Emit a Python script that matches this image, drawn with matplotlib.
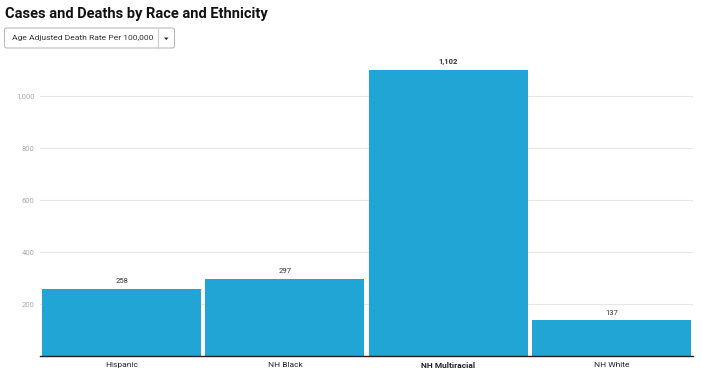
import matplotlib
matplotlib.use("Agg")
import matplotlib.pyplot as plt
from matplotlib.patches import FancyBboxPatch, Polygon
from matplotlib.lines import Line2D

plt.rcParams['font.family'] = ['Roboto', 'DejaVu Sans']

# data
groups = ["Hispanic", "NH Black", "NH Multiracial", "NH White"]
rates = [258, 297, 1102, 137]
highlight = "NH Multiracial"
yticks = [200, 400, 600, 800, 1000]

bar_color = "#21a5d4"

fig = plt.figure(figsize=(7.02, 3.74), dpi=100)
W, H = 702, 374
ax = fig.add_axes([40 / W, 1 - 356 / H, 653 / W, (356 - 55) / H])

x = range(len(groups))
bars = ax.bar(x, rates, width=0.975, color=bar_color, zorder=2)

ax.set_xlim(-0.5, len(groups) - 0.5)
ax.set_ylim(0, 1158)
ax.set_yticks(yticks)
ax.set_yticklabels([f"{v:,}" for v in yticks], color="#aaaaaa", fontsize=5.5)
ax.yaxis.grid(True, color="#e6e6e6", linewidth=0.8, zorder=0)
ax.tick_params(axis="y", length=0, pad=4)
ax.tick_params(axis="x", length=0, pad=4.5)
ax.set_xticks(list(x))
ax.set_xticklabels(groups, fontsize=6, color="#222222")
for lab in ax.get_xticklabels():
    if lab.get_text() == highlight:
        lab.set_fontweight("bold")

for s in ["top", "right", "left"]:
    ax.spines[s].set_visible(False)
ax.spines["bottom"].set_color("#222222")
ax.spines["bottom"].set_linewidth(1.0)

for i, (g, v) in enumerate(zip(groups, rates)):
    ax.annotate(f"{v:,}", (i, v), xytext=(0, 3.5), textcoords="offset points",
                ha="center", va="bottom", fontsize=5.5, color="#333333",
                fontweight="bold" if g == highlight else "normal")

# title
fig.text(5 / W, 1 - 14 / H, "Cases and Deaths by Race and Ethnicity",
         fontsize=10.5, fontweight="bold", color="#111111", va="center", ha="left")

# dropdown box
box = FancyBboxPatch((4.5 / W, 1 - 48 / H), 170 / W, 20 / H,
                     boxstyle="round,pad=0,rounding_size=0.004",
                     transform=fig.transFigure, facecolor="white",
                     edgecolor="#bbbbbb", linewidth=0.8)
fig.patches.append(box)
fig.add_artist(Line2D([158 / W, 158 / W], [1 - 47.5 / H, 1 - 28.5 / H],
                      transform=fig.transFigure, color="#cccccc", linewidth=0.8))
fig.text(12 / W, 1 - 38 / H, "Age Adjusted Death Rate Per 100,000",
         fontsize=6.1, color="#333333", va="center", ha="left")
tri = Polygon([(164 / W, 1 - 37.5 / H), (168.5 / W, 1 - 37.5 / H), (166.25 / W, 1 - 40 / H)],
              closed=True, transform=fig.transFigure, color="#222222", linewidth=0)
fig.patches.append(tri)

fig.savefig("out.png", dpi=100)
